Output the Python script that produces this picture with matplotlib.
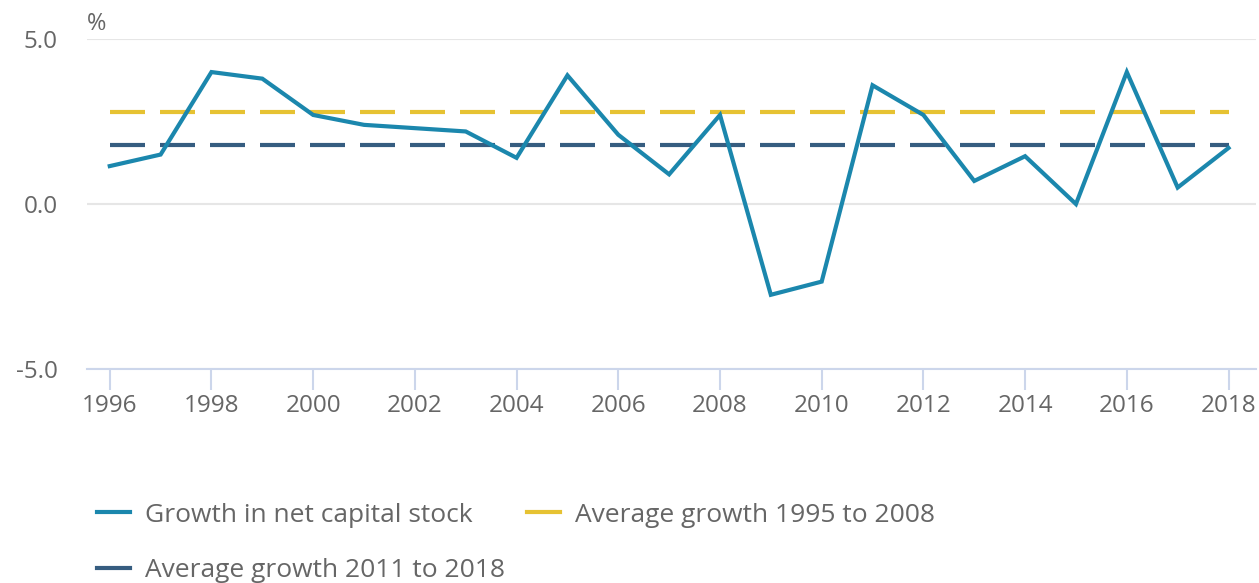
"""
Growth in net capital stock, 1996 to 2018.
"""

import matplotlib.pyplot as plt
from matplotlib.lines import Line2D

years = list(range(1996, 2019))
growth = [1.15, 1.5, 4.0, 3.8, 2.7, 2.4, 2.3, 2.2, 1.4, 3.9, 2.1, 0.9,
          2.7, -2.75, -2.35, 3.6, 2.7, 0.7, 1.45, 0.0, 4.0, 0.5, 1.7]
avg_1995_2008 = 2.8
avg_2011_2018 = 1.8

series_labels = [
    "Growth in net capital stock",
    "Average growth 1995 to 2008",
    "Average growth 2011 to 2018",
]
colors = ["#1b87ad", "#e6c232", "#365d80"]

plt.rcParams["font.family"] = ["Open Sans", "DejaVu Sans"]

fig = plt.figure(figsize=(12.59, 5.83), dpi=100)
ax = fig.add_axes([0.069, 0.367, 0.929, 0.566])

ax.plot(years, growth, color=colors[0], lw=3, solid_joinstyle="miter", zorder=3)
ax.plot([years[0], years[-1]], [avg_1995_2008] * 2, color=colors[1], lw=3,
        dashes=(8.4, 3.6), dash_capstyle="butt", zorder=2)
ax.plot([years[0], years[-1]], [avg_2011_2018] * 2, color=colors[2], lw=3,
        dashes=(8.4, 3.6), dash_capstyle="butt", zorder=2)

ax.set_xlim(1995.55, 2018.55)
ax.set_ylim(-5, 5)
ax.set_xticks(years[::2])
ax.set_yticks([-5, 0, 5])
ax.set_yticklabels(["-5.0", "0.0", "5.0"])

ax.grid(axis="y", color="#e6e6e6", lw=1.5)
ax.set_axisbelow(True)
for side in ["top", "right", "left"]:
    ax.spines[side].set_visible(False)
ax.spines["bottom"].set_color("#ccd6eb")
ax.spines["bottom"].set_linewidth(1.5)

ax.tick_params(axis="x", colors="#666666", labelsize=17.5, length=15,
               width=1.5, color="#ccd6eb", pad=3)
ax.tick_params(axis="y", colors="#666666", labelsize=17.5, length=0, pad=21)

fig.text(0.077, 0.958, "%", fontsize=17, color="#666666", ha="center", va="center")

handles = [
    Line2D([], [], color=colors[0], lw=3),
    Line2D([], [], color=colors[2], lw=3),
    Line2D([], [], color=colors[1], lw=3),
]
labels = [series_labels[0], series_labels[2], series_labels[1]]
fig.legend(handles, labels, ncol=2, loc="upper left",
           bbox_to_anchor=(0.077, 0.138), frameon=False, fontsize=19,
           labelcolor="#666666", handlelength=1.25, handletextpad=0.57,
           columnspacing=0.85, labelspacing=1.15, borderaxespad=0,
           borderpad=0)

fig.savefig("out.png", dpi=100)
plt.close(fig)
